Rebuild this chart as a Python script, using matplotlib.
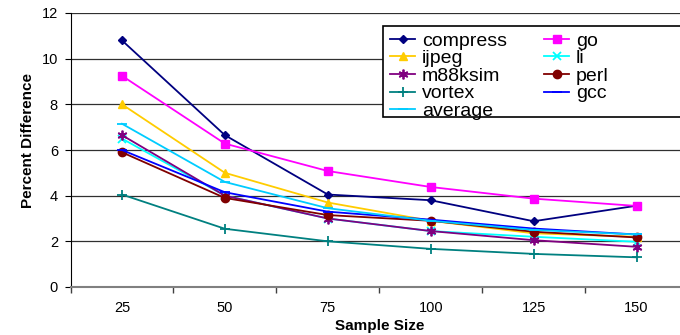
import matplotlib as mpl
mpl.use('Agg')
from matplotlib import pyplot as plt
from matplotlib.patches import Rectangle
import numpy as np

mpl.rcParams['font.family'] = ['Liberation Sans', 'DejaVu Sans']

sample_sizes = ['25', '50', '75', '100', '125', '150']

compress = [10.8, 6.65, 4.05, 3.8, 2.88, 3.56]
go = [9.25, 6.28, 5.08, 4.38, 3.87, 3.55]
ijpeg = [8.0, 5.0, 3.7, 2.9, 2.35, 2.2]
li = [6.5, 4.0, 3.0, 2.45, 2.2, 1.98]
m88ksim = [6.65, 4.0, 3.0, 2.45, 2.05, 1.76]
perl = [5.9, 3.9, 3.15, 2.9, 2.42, 2.17]
vortex = [4.05, 2.55, 2.0, 1.67, 1.45, 1.3]
gcc = [6.0, 4.15, 3.3, 2.95, 2.56, 2.3]
average = [7.15, 4.6, 3.45, 2.9, 2.5, 2.3]

series = [
    ('compress', compress, '#000080', 'D', 4),
    ('go', go, '#ff00ff', 's', 6),
    ('ijpeg', ijpeg, '#ffcc00', '^', 6),
    ('li', li, '#00ffff', 'x', 6),
    ('m88ksim', m88ksim, '#800080', (6, 2, 0), 7),
    ('perl', perl, '#800000', 'o', 6),
    ('vortex', vortex, '#008080', '+', 7),
    ('gcc', gcc, '#0000ff', '_', 7),
    ('average', average, '#00ccff', '_', 7),
]

fig = plt.figure(figsize=(6.8, 3.35), dpi=100)
ax = fig.add_axes([70.5/680, 1-287/335, (688-70.5)/680, 274/335])

x = np.arange(len(sample_sizes))
lines = {}
for label, vals, color, marker, ms in series:
    if marker in ('x', '+', '_') or isinstance(marker, tuple):
        ln, = ax.plot(x, vals, color=color, marker=marker, markersize=ms, markeredgewidth=1.3,
                      linewidth=1.3, label=label)
    else:
        ln, = ax.plot(x, vals, color=color, marker=marker, markersize=ms, markeredgecolor=color,
                      linewidth=1.3, label=label)
    lines[label] = ln

ax.set_xlim(-0.5, len(sample_sizes)-0.5)
ax.set_ylim(0, 12)
ax.set_yticks(np.arange(0, 13, 2))
ax.yaxis.grid(True, color='#303030', linewidth=0.9)
ax.set_axisbelow(True)

ax.set_xticks(x)
ax.set_xticklabels(sample_sizes)
ax.set_xticks(np.arange(-0.5, len(sample_sizes), 1), minor=True)
ax.tick_params(axis='x', which='major', length=0, labelsize=10.5, pad=10)
ax.tick_params(axis='x', which='minor', length=4, width=1, color='#404040')
ax.tick_params(axis='y', length=4, labelsize=10.5, pad=5)

ax.spines['top'].set_visible(False)
ax.spines['right'].set_visible(False)
ax.spines['bottom'].set_color('#808080')
ax.spines['bottom'].set_linewidth(1.5)
ax.spines['left'].set_color('black')

ax.set_xlabel('Sample Size', fontsize=11, fontweight='bold', labelpad=3)
ax.set_ylabel('Percent Difference', fontsize=11, fontweight='bold')
ax.yaxis.set_label_coords(-0.058, (287-140)/274)

# legend box runs off the right edge in the original, so draw it by hand
fig.patches.append(Rectangle((383/680, 1-117/335), (700-383)/680, 91/335, transform=fig.transFigure,
                             facecolor='white', edgecolor='black', linewidth=1.2, zorder=5))

# legend filled row by row like the original: two columns
order = ['compress', 'ijpeg', 'm88ksim', 'vortex', 'average', 'go', 'li', 'perl', 'gcc']
leg = fig.legend([lines[k] for k in order], order,
                 loc='upper left', bbox_to_anchor=(386/680, 1-28/335),
                 ncol=2, fontsize=14, frameon=False, handlelength=1.3,
                 handletextpad=0.35, labelspacing=0.0, columnspacing=1.9, borderpad=0.2,
                 borderaxespad=0)
leg.set_zorder(6)

plt.savefig('out.png', dpi=100)
